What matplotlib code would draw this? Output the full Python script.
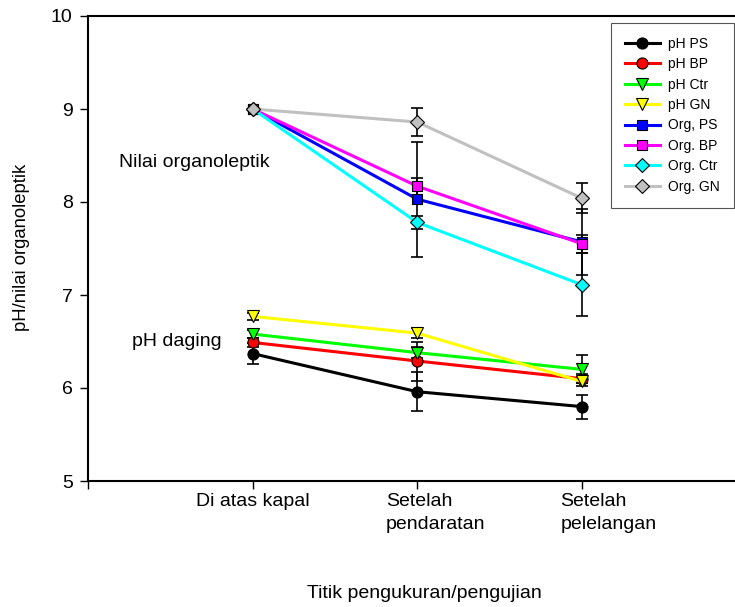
import matplotlib
matplotlib.use("Agg")
import matplotlib.pyplot as plt
from matplotlib.transforms import blended_transform_factory

plt.rcParams['font.family'] = ['Liberation Sans', 'DejaVu Sans']

# titik pengukuran
titik = [1, 2, 3]
label_titik = ["Di atas kapal", "Setelah\npendaratan", "Setelah\npelelangan"]

# nilai pH daging
ph_ps = [6.37, 5.96, 5.80]
ph_bp = [6.49, 6.29, 6.10]
ph_ctr = [6.58, 6.38, 6.20]
ph_gn = [6.77, 6.59, 6.07]
err_ph_ps = [0.11, 0.21, 0.13]
err_ph_bp = [0.05, 0.21, 0.05]
err_ph_ctr = [0.04, 0.06, 0.15]
err_ph_gn = [0.04, 0.05, 0.05]

# nilai organoleptik
org_ps = [9.0, 8.03, 7.57]
org_bp = [9.0, 8.17, 7.55]
org_ctr = [9.0, 7.78, 7.11]
org_gn = [9.0, 8.86, 8.04]
err_org_ps = [0.0, 0.62, 0.35]
err_org_bp = [0.0, 0.09, 0.10]
err_org_ctr = [0.0, 0.07, 0.34]
err_org_gn = [0.0, 0.15, 0.16]

seri = [
    ("pH PS", ph_ps, err_ph_ps, "black", "o", 8),
    ("pH BP", ph_bp, err_ph_bp, "red", "o", 8),
    ("pH Ctr", ph_ctr, err_ph_ctr, "#00ff00", "v", 8.5),
    ("pH GN", ph_gn, err_ph_gn, "#ffff00", "v", 8.5),
    ("Org, PS", org_ps, err_org_ps, "blue", "s", 7.5),
    ("Org. BP", org_bp, err_org_bp, "magenta", "s", 7.5),
    ("Org. Ctr", org_ctr, err_org_ctr, "cyan", "D", 7),
    ("Org. GN", org_gn, err_org_gn, "#c0c0c0", "D", 7),
]

fig = plt.figure(figsize=(7.35, 6.07), dpi=100)
ax = fig.add_axes([88 / 735, 1 - 481 / 607, 1 - 88 / 735, (481 - 16) / 607])

for nama, nilai, err, warna, mk, ms in seri:
    ax.errorbar(titik, nilai, yerr=err, fmt='none', ecolor='black',
                elinewidth=1.2, capsize=4.6, capthick=1.2, zorder=2)
    ax.plot(titik, nilai, color=warna, lw=2.2, marker=mk, markersize=ms,
            markerfacecolor=warna, markeredgecolor='black', markeredgewidth=0.8,
            label=nama, zorder=3)

ax.set_xlim(0, 3.93)
ax.set_ylim(5, 10)
ax.set_yticks([5, 6, 7, 8, 9, 10])
ax.set_xticks([0, 1, 2, 3])
ax.set_xticklabels([])
ax.tick_params(axis='both', direction='out', length=6, width=1, labelsize=14, pad=5)
ax.spines['right'].set_visible(False)
for s in ['left', 'bottom', 'top']:
    ax.spines[s].set_linewidth(1.5)

# label sumbu x (baris pertama di tengah tick, baris kedua rata kiri)
tr = blended_transform_factory(ax.transData, fig.transFigure)
ax.text(titik[0], 0.187, label_titik[0], transform=tr, ha='center', va='top', fontsize=14)
ax.text(1.81, 0.187, label_titik[1], transform=tr, ha='left', va='top',
        fontsize=14, linespacing=1.45)
ax.text(2.87, 0.187, label_titik[2], transform=tr, ha='left', va='top',
        fontsize=14, linespacing=1.45)

fig.text(424 / 735, 1 - 593 / 607, "Titik pengukuran/pengujian", ha='center', va='center', fontsize=14)
fig.text(22 / 735, 1 - 247 / 607, "pH/nilai organoleptik", rotation=90, ha='center', va='center', fontsize=13.3)

ax.text(0.19, 8.43, "Nilai organoleptik", fontsize=14, va='center', ha='left')
ax.text(0.267, 6.505, "pH daging", fontsize=14, va='center', ha='left')

leg = ax.legend(loc='upper left', bbox_to_anchor=(611 / 735, 1 - 23 / 607),
                bbox_transform=fig.transFigure, borderaxespad=0, fontsize=10,
                handlelength=2.5, handletextpad=0.6, labelspacing=0.46,
                borderpad=1.0, fancybox=False, framealpha=1)
leg.get_frame().set_edgecolor('#555555')
leg.get_frame().set_linewidth(0.8)

fig.savefig("out.png", dpi=100)
